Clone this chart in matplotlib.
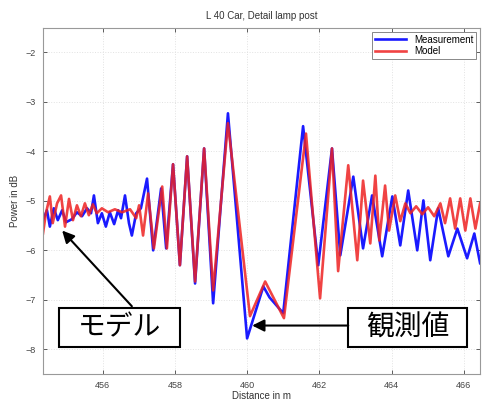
import matplotlib
matplotlib.use("Agg")
import matplotlib.pyplot as plt
from matplotlib.patches import Rectangle

plt.rcParams['font.family'] = ['Liberation Sans', 'DejaVu Sans']

# Measurement (blue)
meas_x = [454.35, 454.46, 454.54, 454.65, 454.76, 454.88, 454.99, 455.15, 455.29, 455.43,
          455.57, 455.68, 455.76, 455.87, 455.98, 456.09, 456.20, 456.32, 456.43, 456.51,
          456.62, 456.73, 456.81, 456.93, 457.06, 457.23, 457.40, 457.62, 457.76, 457.95,
          458.14, 458.34, 458.56, 458.81, 459.06, 459.47, 460.00, 460.45, 460.62, 461.00,
          461.55, 461.97, 462.35, 462.58, 462.94, 463.21, 463.46, 463.74, 464.02, 464.24,
          464.46, 464.71, 464.88, 465.07, 465.29, 465.57, 465.82, 466.09, 466.29, 466.45]
meas_y = [-5.39, -5.19, -5.52, -5.15, -5.39, -5.19, -5.43, -5.37, -5.23, -5.31,
          -5.15, -5.25, -4.89, -5.45, -5.25, -5.52, -5.23, -5.47, -5.19, -5.35,
          -4.89, -5.45, -5.70, -5.25, -5.15, -4.55, -6.00, -4.75, -5.96, -4.26,
          -6.30, -4.10, -6.67, -3.94, -7.07, -3.23, -7.78, -6.73, -6.95, -7.27,
          -3.49, -6.30, -3.94, -6.10, -4.51, -5.96, -4.89, -6.12, -4.91, -5.90,
          -4.79, -6.00, -4.99, -6.20, -5.15, -6.12, -5.56, -6.16, -5.66, -6.26]

# Model (red)
model_x = [454.35, 454.43, 454.54, 454.62, 454.74, 454.85, 454.96, 455.07, 455.18, 455.29,
           455.40, 455.51, 455.62, 455.73, 455.84, 455.98, 456.15, 456.34, 456.54, 456.76,
           456.93, 457.01, 457.12, 457.26, 457.42, 457.65, 457.78, 457.95, 458.14, 458.34,
           458.56, 458.81, 459.06, 459.47, 460.08, 460.50, 461.02, 461.63, 462.02, 462.35,
           462.52, 462.80, 463.05, 463.21, 463.41, 463.55, 463.66, 463.82, 463.93, 464.10,
           464.24, 464.38, 464.52, 464.68, 464.85, 465.01, 465.18, 465.35, 465.48, 465.62,
           465.76, 465.90, 466.04, 466.18, 466.32, 466.45]
model_y = [-5.66, -5.25, -4.91, -5.45, -5.05, -4.89, -5.52, -4.96, -5.39, -5.09,
           -5.31, -5.05, -5.29, -5.07, -5.25, -5.15, -5.23, -5.17, -5.23, -5.17,
           -5.35, -5.09, -5.70, -4.85, -5.96, -4.71, -5.96, -4.26, -6.30, -4.10,
           -6.63, -3.94, -6.81, -3.43, -7.33, -6.63, -7.37, -3.64, -6.97, -3.94,
           -6.42, -4.28, -6.20, -4.59, -5.86, -4.49, -5.80, -4.69, -5.60, -4.89,
           -5.41, -5.05, -5.25, -5.11, -5.27, -5.13, -5.31, -5.05, -5.45, -4.95,
           -5.56, -4.95, -5.60, -4.95, -5.56, -5.05]

x_ticks = [456, 458, 460, 462, 464, 466]
y_ticks = [-2, -3, -4, -5, -6, -7, -8]

fig = plt.figure(figsize=(4.83, 4.05), dpi=100)
ax = fig.add_axes([0.089, 0.0765, 0.905, 0.855])

ax.plot(meas_x, meas_y, color='#1a1aff', lw=1.9, label='Measurement',
        solid_joinstyle='round')
ax.plot(model_x, model_y, color='#ee2222', lw=1.9, alpha=0.85, label='Model',
        solid_joinstyle='round')

ax.set_xlim(454.35, 466.45)
ax.set_ylim(-8.5, -1.5)
ax.set_xticks(x_ticks)
ax.set_yticks(y_ticks)
ax.tick_params(direction='in', top=True, right=True, labelsize=6.5, colors='#444444',
               length=3, width=0.6, pad=5)
for s in ax.spines.values():
    s.set_color('#999999')
    s.set_linewidth(0.8)
ax.grid(True, color='#e2e2e2', linestyle=':', linewidth=0.7)

ax.set_title('L 40 Car, Detail lamp post', fontsize=7, color='#333333', pad=6)
ax.set_xlabel('Distance in m', fontsize=7, color='#333333', labelpad=1)
ax.set_ylabel('Power in dB', fontsize=7, color='#333333', labelpad=4)

leg = ax.legend(loc='upper right', fontsize=7, fancybox=False, framealpha=1,
                edgecolor='#888888', borderaxespad=0.4, handlelength=3.2,
                labelspacing=0.2, borderpad=0.3)
leg.get_frame().set_linewidth(0.7)

# annotation boxes
jp = ['Noto Sans CJK JP', 'DejaVu Sans']
ax.add_patch(Rectangle((0.0366, 0.078), 0.277, 0.113, transform=ax.transAxes,
                       facecolor='white', edgecolor='black', lw=1.5, zorder=5))
ax.text(0.0366 + 0.277 / 2, 0.078 + 0.113 / 2, 'モデル', transform=ax.transAxes,
        ha='center', va='center', fontsize=20, family=jp, zorder=6)
ax.add_patch(Rectangle((0.698, 0.078), 0.272, 0.113, transform=ax.transAxes,
                       facecolor='white', edgecolor='black', lw=1.5, zorder=5))
ax.text(0.698 + 0.272 / 2, 0.078 + 0.113 / 2, '観測値', transform=ax.transAxes,
        ha='center', va='center', fontsize=20, family=jp, zorder=6)

arrow = dict(arrowstyle='-|>', lw=1.5, color='black', mutation_scale=18,
             shrinkA=0, shrinkB=0)
ax.annotate('', xy=(454.88, -5.60), xytext=(456.81, -7.13), arrowprops=arrow, zorder=7)
ax.annotate('', xy=(460.14, -7.52), xytext=(462.80, -7.52), arrowprops=arrow, zorder=7)

fig.savefig('out.png', dpi=100)
